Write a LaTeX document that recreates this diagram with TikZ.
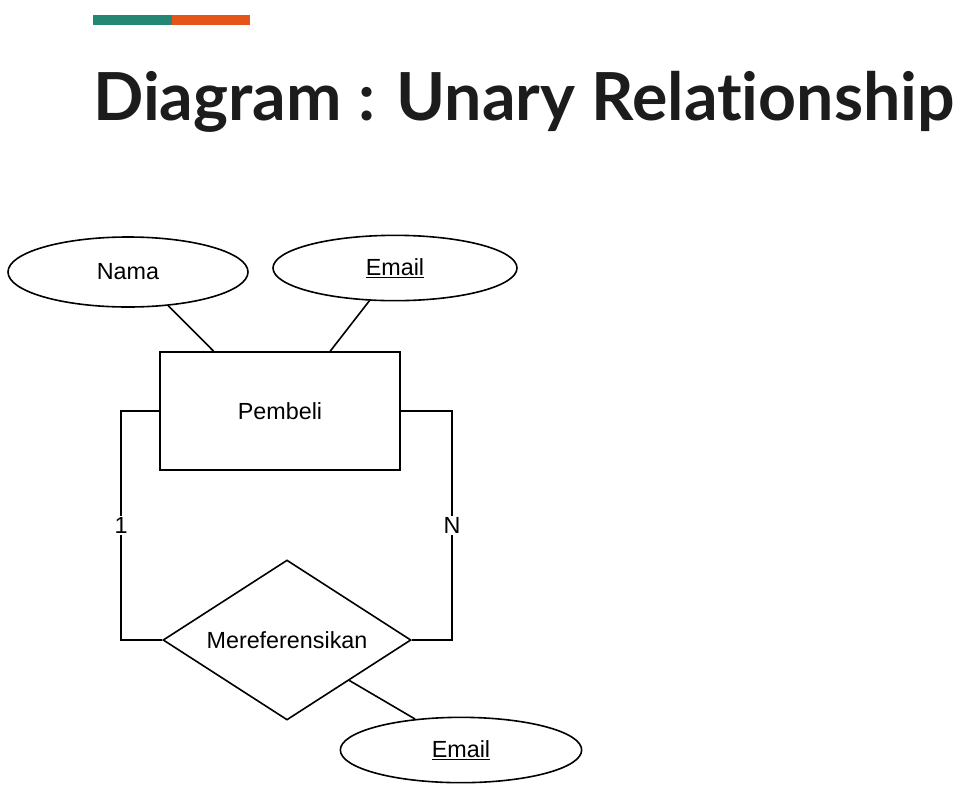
\documentclass[tikz,border=0pt]{standalone}
\usepackage{fontspec}
\setmainfont{Liberation Sans}
\newfontfamily\titlefont{Lato}[Ligatures=NoCommon]
\usetikzlibrary{shapes.geometric}
\definecolor{barteal}{RGB}{35,135,115}
\definecolor{barorange}{RGB}{228,85,25}
\definecolor{titleink}{RGB}{28,28,28}
\tikzset{
  erline/.style={line width=1.2pt},
  attr/.style={draw,ellipse,erline,inner sep=0pt,font=\fontsize{17.5}{20}\selectfont},
  entity/.style={draw,rectangle,erline,inner sep=0pt,minimum width=180pt,minimum height=88.5pt,font=\fontsize{17.5}{20}\selectfont},
  relship/.style={draw,diamond,aspect=2,erline,inner sep=0pt,minimum width=186pt,minimum height=120pt,font=\fontsize{17.5}{20}\selectfont},
  card/.style={fill=white,inner sep=1pt,font=\fontsize{17.5}{20}\selectfont}
}
\begin{document}
\begin{tikzpicture}[x=0.75pt,y=-0.75pt]
      \useasboundingbox (0,0) rectangle (973,800);
      \fill [barteal] (93,15) rectangle (172,25);
      \fill [barorange] (172,15) rectangle (250,25);
      \node [anchor=base west,inner sep=0pt,text=titleink,font=\titlefont\bfseries\fontsize{48}{52}\selectfont] (title) at (93,120) {\resizebox{646pt}{!}{Diagram : Unary Relationship}};

      \node [attr,minimum width=180pt,minimum height=52.5pt] (nama) at (128,272) {Nama};
      \node [attr,minimum width=183pt,minimum height=49pt] (email) at (395,268) {\underline{Email}};
      \node [entity] (pembeli) at (280,411) {Pembeli};
      \node [relship] (ref) at (287,640) {Mereferensikan};
      \node [attr,minimum width=181pt,minimum height=49pt] (emailrel) at (461,750) {\underline{Email}};
      \coordinate (lbend) at (121,411);
      \coordinate (rbend) at (452,411);

      \draw [erline] (nama.-40) -- (pembeli.138.6);
      \draw [erline] (email.-128) -- (pembeli.50.9);
      \draw [erline] (pembeli.west) -- (lbend) |- (ref.west) node [card,pos=0.25] {1};
      \draw [erline] (pembeli.east) -- (rbend) |- (ref.east) node [card,pos=0.25] {N};
      \draw [erline] (ref.-33.3) -- (emailrel.146.9);
    \end{tikzpicture}
\end{document}
